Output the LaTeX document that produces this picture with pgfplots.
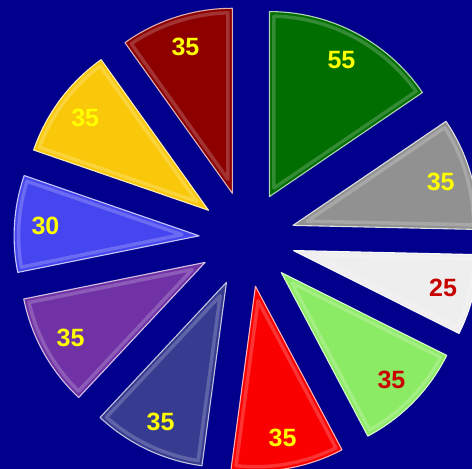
\documentclass[border=0pt]{standalone}
\usepackage{pgfplots}
\usepackage{pgfplotstable}
\pgfplotsset{compat=1.18}
\usepackage{fontspec}
\setmainfont{Liberation Sans}

\definecolor{bg}{RGB}{0,0,140}
\definecolor{cgreen}{RGB}{0,110,0}
\definecolor{cgray}{RGB}{145,145,145}
\definecolor{cwhite}{RGB}{238,238,238}
\definecolor{clgreen}{RGB}{140,235,100}
\definecolor{cred}{RGB}{250,0,0}
\definecolor{cnavy}{RGB}{55,60,145}
\definecolor{cpurple}{RGB}{112,50,165}
\definecolor{cblue}{RGB}{70,70,240}
\definecolor{cyellow}{RGB}{250,200,10}
\definecolor{cdred}{RGB}{140,0,0}
\definecolor{lyellow}{RGB}{255,255,0}
\definecolor{ldred}{RGB}{200,0,0}

% slices clockwise from 12 o'clock
\pgfplotstableread{
value fillc labelc ldx ldy
55 cgreen  lyellow 0 0
35 cgray   lyellow 0 0
25 cwhite  ldred   0 0
35 clgreen ldred   0 0
35 cred    lyellow 0 0
35 cnavy   lyellow 0 0
35 cpurple lyellow 0 0
30 cblue   lyellow 0 0
35 cyellow lyellow 0 0
35 cdred   lyellow 0 0
}\piedata

\def\cx{247}\def\cy{239}\def\R{185}\def\ex{48}\def\lr{154}\def\dd{4.5}
\newcommand\labelfont{\fontsize{25}{30}\selectfont\bfseries}

\begin{document}
\begin{tikzpicture}
\begin{axis}[width=472pt, height=469pt, scale only axis,
  xmin=0, xmax=472, ymin=0, ymax=469, y dir=reverse,
  hide axis, clip=true]
\fill[bg] (rel axis cs:0,0) rectangle (rel axis cs:1,1);
\pgfplotstablegetrowsof{\piedata}
\pgfmathtruncatemacro\nrows{\pgfplotsretval-1}
\xdef\total{0}
\pgfplotsforeachungrouped \i in {0,...,\nrows}{%
  \pgfplotstablegetelem{\i}{value}\of\piedata
  \pgfmathsetmacro\tmp{\total+\pgfplotsretval}%
  \xdef\total{\tmp}%
}
\xdef\cum{0}
\pgfplotsforeachungrouped \i in {0,...,\nrows}{%
  \pgfplotstablegetelem{\i}{value}\of\piedata \let\val\pgfplotsretval
  \pgfplotstablegetelem{\i}{fillc}\of\piedata \let\fc\pgfplotsretval
  \pgfplotstablegetelem{\i}{labelc}\of\piedata \let\lc\pgfplotsretval
  \pgfplotstablegetelem{\i}{ldx}\of\piedata \let\ldx\pgfplotsretval
  \pgfplotstablegetelem{\i}{ldy}\of\piedata \let\ldy\pgfplotsretval
  \pgfmathsetmacro\angA{90-\cum/\total*360}%
  \pgfmathsetmacro\newcum{\cum+\val}%
  \pgfmathsetmacro\angB{90-\newcum/\total*360}%
  \pgfmathsetmacro\mid{(\angA+\angB)/2}%
  \pgfmathsetmacro\half{(\angA-\angB)/2}%
  \pgfmathsetmacro\px{\cx+\ex*cos(\mid)}%
  \pgfmathsetmacro\py{\cy-\ex*sin(\mid)}%
  % inset outline (bevel highlight)
  \pgfmathsetmacro\qd{\dd/sin(\half)}%
  \pgfmathsetmacro\qx{\px+\qd*cos(\mid)}%
  \pgfmathsetmacro\qy{\py-\qd*sin(\mid)}%
  \pgfmathsetmacro\da{asin(\dd/(\R-\dd))}%
  \pgfmathsetmacro\iA{\angA-\da}%
  \pgfmathsetmacro\iB{\angB+\da}%
  \pgfmathsetmacro\Ri{\R-\dd}%
  \pgfmathsetmacro\lx{\px+\lr*cos(\mid)+\ldx}%
  \pgfmathsetmacro\ly{\py-\lr*sin(\mid)+\ldy}%
  \pgfmathtruncatemacro\vint{\val}%
  \edef\doslice{%
    \noexpand\addplot[fill=\fc, draw=\fc!30!white, line width=1.1pt, line join=round,
      domain=\angB:\angA, samples=60]
      ({\px+\R*cos(x)},{\py-\R*sin(x)}) -- (axis cs:\px,\py) -- cycle;
    \noexpand\addplot[draw=white, draw opacity=0.2, line width=3.5pt, line join=round,
      domain=\iB:\iA, samples=60, forget plot]
      ({\px+\Ri*cos(x)},{\py-\Ri*sin(x)}) -- (axis cs:\qx,\qy) -- cycle;
    \noexpand\node[text=\lc, font=\noexpand\labelfont, inner sep=0pt]
      at (axis cs:\lx,\ly) {\vint};
  }%
  \doslice
  \xdef\cum{\newcum}%
}
\end{axis}
\end{tikzpicture}
\end{document}
